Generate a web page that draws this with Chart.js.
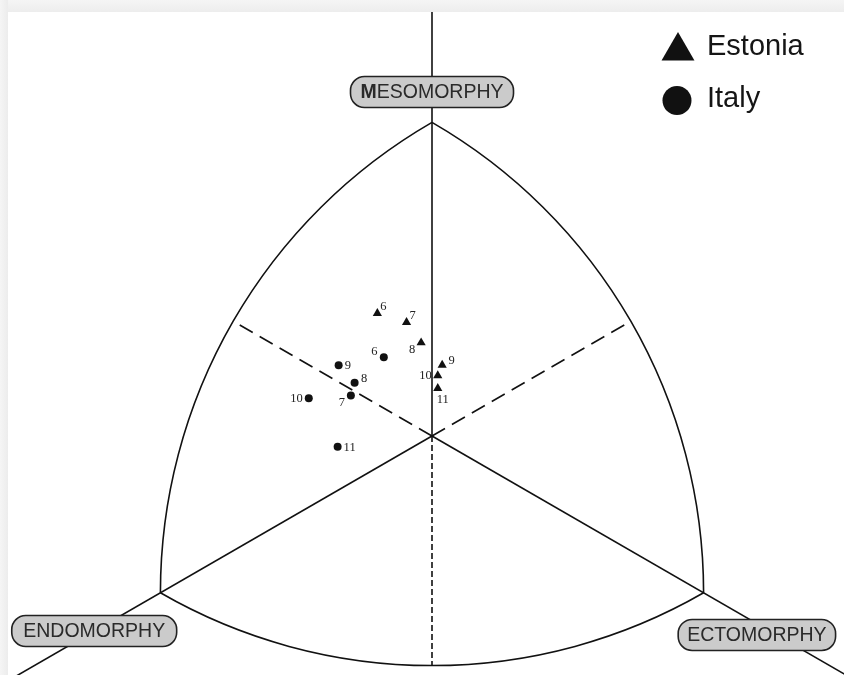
<!DOCTYPE html>
<html>
<head>
<meta charset="utf-8">
<script src="https://cdn.jsdelivr.net/npm/chart.js@4/dist/chart.umd.min.js"></script>
<style>
  html, body { margin: 0; padding: 0; background: #fff; overflow: hidden; }
  #wrap { position: relative; width: 844px; height: 675px; }
  #c { position: absolute; left: 0; top: 0; }
  .edge { position: absolute; pointer-events: none; }
  #edgeTop { left: 0; top: 0; width: 844px; height: 12px;
    background: linear-gradient(to bottom, #f5f5f5, #ededed); }
  #edgeLeft { left: 0; top: 0; width: 8px; height: 675px;
    background: linear-gradient(to right, #f5f5f5, #ececec); }
</style>
</head>
<body>
<div id="wrap">
  <canvas id="c" width="844" height="675"></canvas>
  <div class="edge" id="edgeTop"></div>
  <div class="edge" id="edgeLeft"></div>
</div>
<script>
// Somatochart coordinates: X = ecto - endo, Y = 2*meso - (endo + ecto)
const ages = [6, 7, 8, 9, 10, 11];

const estoniaX = [-1.61, -0.75, -0.32, 0.30, 0.17, 0.17];
const estoniaY = [6.26, 5.80, 4.76, 3.62, 3.08, 2.43];

const italyX = [-1.42, -2.39, -2.28, -2.75, -3.63, -2.78];
const italyY = [4.02, 2.06, 2.72, 3.61, 1.92, -0.55];

// Which side of each marker its age label sits on
const estoniaLabelSide = ['ne', 'ne', 'sw', 'ene', 'w', 'se'];
const italyLabelSide = ['nw', 'sw', 'ene', 'e', 'w', 'e'];

const seriesNames = ['Estonia', 'Italy'];
const axisNames = ['MESOMORPHY', 'ENDOMORPHY', 'ECTOMORPHY'];

function toPoints(xs, ys) {
  return xs.map((x, i) => ({ x: x, y: ys[i] }));
}

const INK = '#111';

// Label offsets (pixels) for each side keyword
const SIDE = {
  ne:  { dx: 6,   dy: -7,  align: 'center' },
  ene: { dx: 9.5, dy: -4,  align: 'center' },
  e:   { dx: 6,   dy: 0.5, align: 'left' },
  se:  { dx: 5,   dy: 11.5, align: 'center' },
  sw:  { dx: -9,  dy: 7,   align: 'center' },
  w:   { dx: -6,  dy: 0.5, align: 'right' },
  nw:  { dx: -9.4, dy: -5.6, align: 'center' }
};

function dist(a, b) { return Math.hypot(a.x - b.x, a.y - b.y); }

function arcBetween(ctx, a, b, c) {
  const r = dist(c, a);
  const a1 = Math.atan2(a.y - c.y, a.x - c.x);
  const a2 = Math.atan2(b.y - c.y, b.x - c.x);
  let d = a2 - a1;
  while (d > Math.PI) d -= 2 * Math.PI;
  while (d <= -Math.PI) d += 2 * Math.PI;
  ctx.beginPath();
  ctx.arc(c.x, c.y, r, a1, a1 + d, d < 0);
  ctx.stroke();
}

function line(ctx, a, b, dash) {
  ctx.save();
  ctx.setLineDash(dash || []);
  ctx.beginPath();
  ctx.moveTo(a.x, a.y);
  ctx.lineTo(b.x, b.y);
  ctx.stroke();
  ctx.restore();
}

function pillLabel(ctx, cx, cy, text, padX) {
  const font = '19.5px "Liberation Sans", Arial, sans-serif';
  const bold = 'bold 19.5px "Liberation Sans", Arial, sans-serif';
  ctx.save();
  let first = '', rest = text;
  if (text === 'MESOMORPHY') { first = text[0]; rest = text.slice(1); }
  ctx.font = bold;
  const wFirst = first ? ctx.measureText(first).width : 0;
  ctx.font = font;
  const wRest = ctx.measureText(rest).width;
  const w = wFirst + wRest;
  const bw = w + 2 * padX, bh = 31;
  ctx.beginPath();
  ctx.roundRect(cx - bw / 2, cy - bh / 2, bw, bh, 14);
  ctx.fillStyle = '#cbcbcb';
  ctx.fill();
  ctx.lineWidth = 1.6;
  ctx.strokeStyle = '#222';
  ctx.stroke();
  ctx.fillStyle = '#2a2a2a';
  ctx.textBaseline = 'middle';
  ctx.textAlign = 'left';
  let x = cx - w / 2;
  if (first) {
    ctx.font = bold;
    ctx.fillText(first, x, cy + 1);
    x += wFirst;
  }
  ctx.font = font;
  ctx.fillText(rest, x, cy + 1);
  ctx.restore();
}

const somatochartFrame = {
  id: 'somatochartFrame',
  beforeDatasetsDraw(chart) {
    const ctx = chart.ctx;
    const sx = chart.scales.x, sy = chart.scales.y;
    const P = (X, Y) => ({ x: sx.getPixelForValue(X), y: sy.getPixelForValue(Y) });
    const O = P(0, 0);
    const meso = P(0, 16), endo = P(-8, -8), ecto = P(8, -8);
    const R = dist(O, meso);
    const side = dist(meso, endo);

    ctx.save();
    ctx.strokeStyle = INK;
    ctx.lineWidth = 1.6;
    ctx.lineCap = 'butt';

    // Reuleaux outline: each arc centred on the opposite vertex
    arcBetween(ctx, endo, ecto, meso);
    arcBetween(ctx, meso, endo, ecto);
    arcBetween(ctx, meso, ecto, endo);

    // Solid axes through each vertex, running off the canvas
    line(ctx, O, P(0, 60));
    line(ctx, O, P(-30, -30));
    line(ctx, O, P(30, -30));

    // Dashed bisectors from the centre to the outline
    const reach = side - R;
    [[meso, [6, 3]], [endo, [15, 8]], [ecto, [15, 8]]].forEach(([v, dash]) => {
      const ux = (O.x - v.x) / R, uy = (O.y - v.y) / R;
      line(ctx, O, { x: O.x + ux * reach, y: O.y + uy * reach }, dash);
    });
    ctx.restore();

    // Axis name boxes
    const mp = P(0, 17.55), np = P(-9.95, -9.95), cp = P(9.57, -10.15);
    pillLabel(ctx, mp.x, mp.y, axisNames[0], 10);
    pillLabel(ctx, np.x, np.y, axisNames[1], 11.5);
    pillLabel(ctx, cp.x, cp.y, axisNames[2], 9);
  },
  afterDatasetsDraw(chart) {
    const ctx = chart.ctx;
    ctx.save();
    ctx.fillStyle = '#222';
    ctx.font = '12.5px "Liberation Serif", "Times New Roman", serif';
    ctx.textBaseline = 'middle';
    const sides = [estoniaLabelSide, italyLabelSide];
    chart.data.datasets.forEach((ds, di) => {
      const meta = chart.getDatasetMeta(di);
      meta.data.forEach((pt, i) => {
        const s = SIDE[sides[di][i]];
        ctx.textAlign = s.align;
        ctx.fillText(String(ages[i]), pt.x + s.dx, pt.y + s.dy);
      });
    });

    // Legend, top right
    const lx = 678;
    const rows = [51, 100.5];
    ctx.fillStyle = INK;
    chart.data.datasets.forEach((ds, di) => {
      const cy = rows[di];
      ctx.beginPath();
      if (ds.pointStyle === 'triangle') {
        const r = 19;
        for (let k = 0; k < 3; k++) {
          const a = -Math.PI / 2 + k * 2 * Math.PI / 3;
          const px = lx + r * Math.cos(a), py = cy + r * Math.sin(a);
          if (k === 0) ctx.moveTo(px, py); else ctx.lineTo(px, py);
        }
        ctx.closePath();
      } else {
        ctx.arc(lx - 1, cy, 14.5, 0, 2 * Math.PI);
      }
      ctx.fill();
    });
    ctx.font = '29px "Liberation Sans", Arial, sans-serif';
    ctx.textAlign = 'left';
    ctx.textBaseline = 'alphabetic';
    ctx.fillStyle = '#151515';
    ctx.fillText(chart.data.datasets[0].label, 707, 55);
    ctx.fillText(chart.data.datasets[1].label, 707, 107);
    ctx.restore();
  }
};

const centreX = 432, centreY = 436;        // pixel position of the origin
const yUnit = 19.6, xUnit = yUnit * Math.sqrt(3);

new Chart(document.getElementById('c'), {
  type: 'scatter',
  data: {
    datasets: [
      {
        label: seriesNames[0],
        data: toPoints(estoniaX, estoniaY),
        pointStyle: 'triangle',
        pointRadius: 5.3,
        pointBorderWidth: 0,
        backgroundColor: INK,
        borderColor: INK
      },
      {
        label: seriesNames[1],
        data: toPoints(italyX, italyY),
        pointStyle: 'circle',
        pointRadius: 4,
        pointBorderWidth: 0,
        backgroundColor: INK,
        borderColor: INK
      }
    ]
  },
  options: {
    responsive: false,
    devicePixelRatio: 1,
    animation: false,
    layout: { padding: 0, autoPadding: false },
    plugins: { legend: { display: false }, tooltip: { enabled: false } },
    scales: {
      x: { type: 'linear', display: false,
           min: -centreX / xUnit, max: (844 - centreX) / xUnit },
      y: { type: 'linear', display: false,
           min: -(675 - centreY) / yUnit, max: centreY / yUnit }
    }
  },
  plugins: [somatochartFrame]
});
</script>
</body>
</html>
